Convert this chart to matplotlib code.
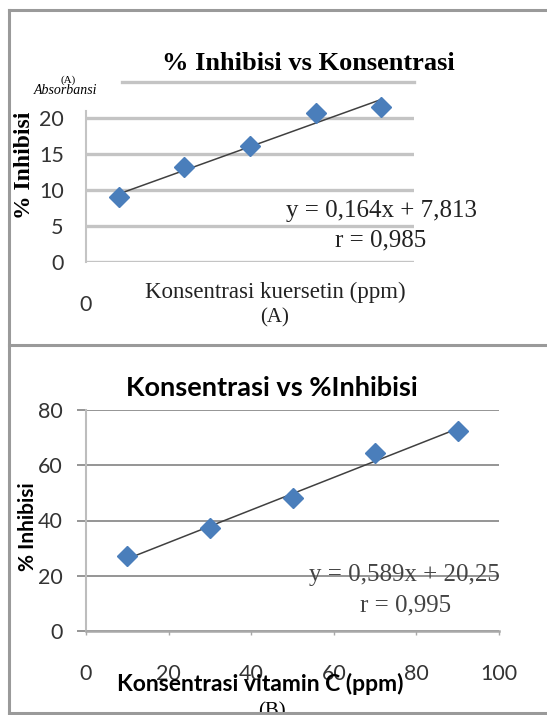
import matplotlib.pyplot as plt
from matplotlib.lines import Line2D
import numpy as np

# data
conc_a = [10, 30, 50, 70, 90]
inhib_a = [9.0, 13.2, 16.1, 20.7, 21.5]
slope_a, icpt_a = 0.164, 7.813

conc_b = [10, 30, 50, 70, 90]
inhib_b = [27.2, 37.3, 48.2, 64.5, 72.5]
slope_b, icpt_b = 0.589, 20.25

W, H = 547, 715
fig = plt.figure(figsize=(W / 100, H / 100), dpi=100)

SERIF = 'Liberation Serif'
SANS = 'Lato'
BLUE = '#4a7ebb'


def fx(px):
    return px / W


def fy(py):
    return 1 - py / H


# panel frames
for xs, ys in [([9, 9], [10, 715]), ([9, 547], [10, 10]), ([9, 547], [345, 345]),
               ([9, 547], [713, 713])]:
    fig.add_artist(Line2D([fx(x) for x in xs], [fy(y) for y in ys],
                          color='#9a9a9a', lw=2.2, zorder=5))

# ==========================
# (A) kuersetin
# ==========================
axA = fig.add_axes([fx(86), fy(262), fx(328), 180 / H])
axA.set_xlim(0, 100)
axA.set_ylim(0, 25)
for v in [0, 5, 10, 15, 20]:
    axA.axhline(v, color='#c4c4c4', lw=2.4, zorder=1)
axA.axhline(25, xmin=(122 - 86) / 328, color='#c4c4c4', lw=2.4, zorder=1, clip_on=False)
for s in ['top', 'right', 'bottom']:
    axA.spines[s].set_visible(False)
axA.spines['left'].set_color('#c4c4c4')
axA.spines['left'].set_linewidth(1.5)
axA.spines['left'].set_bounds(0, 21)
axA.set_xticks([])
axA.set_yticks([0, 5, 10, 15, 20])
axA.tick_params(axis='y', length=0, pad=16, labelsize=15.5, labelcolor='#333333')
for lab in axA.get_yticklabels():
    lab.set_family(SANS)

xa = np.array([conc_a[0], conc_a[-1]])
axA.plot(xa, slope_a * xa + icpt_a, color='#404040', lw=1.1, zorder=3)
axA.plot(conc_a, inhib_a, 'D', color=BLUE, ms=10, zorder=4)

fig.text(fx(25), fy(165), '% Inhibisi', family=SERIF, fontweight='bold', fontsize=17,
         rotation=90, ha='center', va='center')
fig.text(fx(308), fy(63), '% Inhibisi vs Konsentrasi', family=SERIF,
         fontweight='bold', fontsize=19, ha='center', va='center')
fig.text(fx(68), fy(80), '(A)', family=SERIF, fontsize=8, ha='center', va='center')
fig.text(fx(66), fy(91), 'Absorbansi', family=SERIF, fontstyle='italic', fontsize=10,
         ha='center', va='center')
fig.text(fx(477), fy(211), 'y = 0,164x + 7,813', family=SERIF, fontsize=18,
         ha='right', va='center', color='#222222')
fig.text(fx(426), fy(240), 'r = 0,985', family=SERIF, fontsize=18,
         ha='right', va='center', color='#222222')
fig.text(fx(275), fy(292), 'Konsentrasi kuersetin (ppm)', family=SERIF,
         fontsize=16.5, ha='center', va='center', color='#222222')
fig.text(fx(275), fy(318), '(A)', family=SERIF, fontsize=15, ha='center', va='center',
         color='#222222')
fig.text(fx(86), fy(305), '0', family=SANS, fontsize=15.5, ha='center', va='center',
         color='#333333')

# ==========================
# (B) vitamin C
# ==========================
axB = fig.add_axes([fx(86), fy(631), fx(413), 221 / H])
axB.set_xlim(0, 100)
axB.set_ylim(0, 80)
axB.set_xticks([0, 20, 40, 60, 80, 100])
axB.set_yticks([0, 20, 40, 60, 80])
axB.grid(axis='y', color='#8c8c8c', lw=1.3, zorder=1)
for s in ['top', 'right']:
    axB.spines[s].set_visible(False)
axB.spines['left'].set_color('#bdbdbd')
axB.spines['left'].set_linewidth(1.5)
axB.spines['bottom'].set_color('#a8a8a8')
axB.spines['bottom'].set_linewidth(1.8)
axB.tick_params(axis='y', length=6.5, width=1.3, color='#8c8c8c', pad=10,
                labelsize=15.5, labelcolor='#333333')
axB.tick_params(axis='x', length=3, width=1, color='#a8a8a8', pad=21,
                labelsize=15.5, labelcolor='#333333')
for lab in axB.get_xticklabels() + axB.get_yticklabels():
    lab.set_family(SANS)
axB.set_axisbelow(True)

xb = np.array([conc_b[0], conc_b[-1]])
axB.plot(xb, slope_b * xb + icpt_b, color='#404040', lw=1.1, zorder=3)
axB.plot(conc_b, inhib_b, 'D', color=BLUE, ms=10, zorder=4)

fig.text(fx(28), fy(527), '% Inhibisi', family=SANS, fontweight='bold', fontsize=15,
         rotation=90, ha='center', va='center')
fig.text(fx(272), fy(388), 'Konsentrasi vs %Inhibisi', family=SANS,
         fontweight='bold', fontsize=19.5, ha='center', va='center')
fig.text(fx(500), fy(575), 'y = 0,589x + 20,25', family=SERIF, fontsize=18,
         ha='right', va='center', color='#444444')
fig.text(fx(451), fy(605), 'r = 0,995', family=SERIF, fontsize=18,
         ha='right', va='center', color='#444444')
fig.text(fx(260), fy(684), 'Konsentrasi vitamin C (ppm)', family=SANS,
         fontweight='bold', fontsize=16.5, ha='center', va='center')
fig.text(fx(272), fy(712), '(B)', family=SERIF, fontsize=15, ha='center', va='center')

fig.savefig('out.png', dpi=100, facecolor='white')
